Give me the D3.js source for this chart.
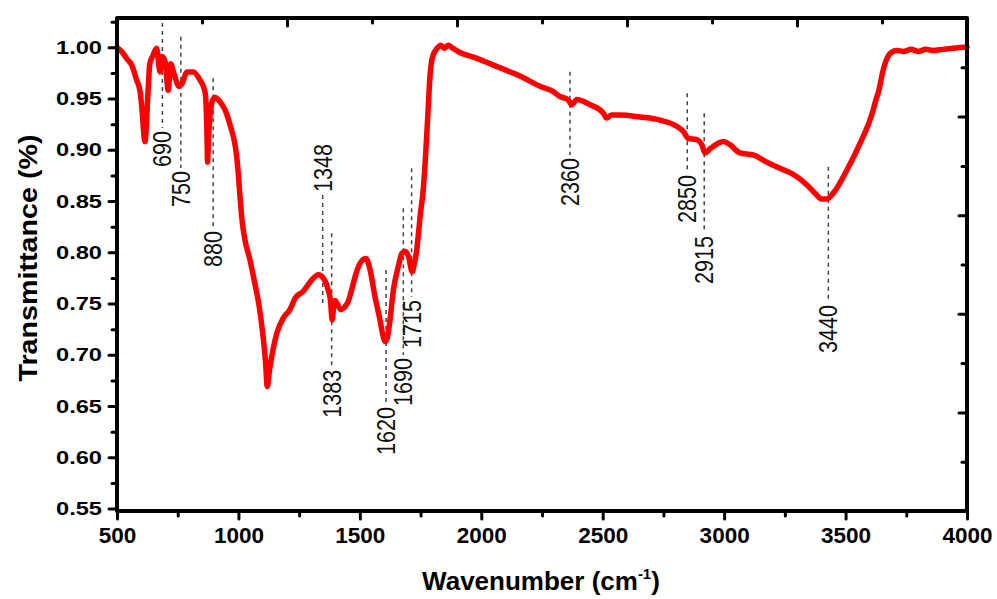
<!DOCTYPE html>
<html>
<head>
<meta charset="utf-8">
<title>FTIR spectrum</title>
<script src="https://cdn.jsdelivr.net/npm/d3@7"></script>
<style>
  body { margin: 0; background: #fff; }
  .tick text { font-family: "Liberation Sans", Arial, sans-serif; font-weight: bold; fill: #000; }
  .tick line { stroke: #000; stroke-width: 3; stroke-linecap: round; }
</style>
</head>
<body>
<script>
// spectrum
var wavenumber = [500, 505, 519, 540, 560, 581, 595, 602, 615, 629, 635, 648, 663, 677, 686, 698, 711, 721, 735, 755, 766, 789, 814, 842, 862,
  866, 870, 873, 877, 884, 893, 904, 924, 945, 972, 982, 992, 1000, 1006, 1015, 1027, 1048, 1068, 1085, 1101, 1111, 1119,
  1128, 1137, 1158, 1185, 1212, 1233, 1267, 1302, 1329, 1349, 1370, 1379, 1386, 1393, 1398, 1407, 1421, 1439, 1452, 1468,
  1480, 1500, 1525, 1542, 1562, 1583, 1595, 1604, 1612, 1624, 1638, 1658, 1673, 1686, 1700, 1716, 1725, 1734, 1742, 1748,
  1761, 1772, 1781, 1789, 1801, 1818, 1834, 1848, 1863, 1884, 1912, 1974, 2077, 2159, 2242, 2295, 2324, 2357, 2372, 2393,
  2448, 2489, 2505, 2516, 2537, 2571, 2654, 2736, 2805, 2832, 2853, 2887, 2908, 2921, 2942, 2997, 3024, 3065, 3120, 3175,
  3230, 3292, 3340, 3381, 3400, 3422, 3450, 3505, 3559, 3614, 3625, 3635, 3655, 3683, 3710, 3740, 3770, 3800, 3830, 3860, 3900,
  3940, 3985, 4000];
var transmittance = [1.000, 0.999, 0.996, 0.989, 0.983, 0.968, 0.957, 0.942, 0.908, 0.962, 0.984, 0.992, 0.999, 0.976, 0.991, 0.986, 0.958, 0.984, 0.974, 0.962, 0.964, 0.976, 0.976, 0.968, 0.957,
  0.948, 0.920, 0.888, 0.912, 0.935, 0.948, 0.951, 0.947, 0.939, 0.919, 0.910, 0.895, 0.875, 0.856, 0.831, 0.812, 0.792, 0.769, 0.748, 0.719, 0.695, 0.669,
  0.685, 0.698, 0.721, 0.736, 0.744, 0.755, 0.762, 0.773, 0.778, 0.775, 0.763, 0.753, 0.734, 0.749, 0.753, 0.750, 0.744, 0.747, 0.752, 0.765,
  0.776, 0.789, 0.794, 0.783, 0.757, 0.734, 0.719, 0.713, 0.716, 0.734, 0.763, 0.786, 0.799, 0.801, 0.796, 0.781, 0.790, 0.802, 0.820, 0.835,
  0.861, 0.900, 0.939, 0.973, 0.992, 0.999, 1.002, 0.999, 1.002, 0.999, 0.995, 0.990, 0.980, 0.972, 0.962, 0.957, 0.952, 0.949, 0.944, 0.949,
  0.944, 0.939, 0.935, 0.931, 0.934, 0.934, 0.932, 0.929, 0.923, 0.918, 0.911, 0.910, 0.905, 0.897, 0.901, 0.908, 0.905, 0.897, 0.895, 0.888,
  0.882, 0.875, 0.866, 0.856, 0.852, 0.852, 0.858, 0.880, 0.906, 0.939, 0.949, 0.956, 0.978, 0.994, 0.997, 0.996, 0.998, 0.996, 0.998, 0.997, 0.998,
  0.999, 1.000, 1.000];

// peak markers
var peakLabels = ["690", "750", "880", "1348", "1383", "1620", "1690", "1715", "2360", "2850", "2915", "3440"];
var peakPos    = [687, 763, 896, 1347, 1384, 1608, 1679, 1713, 2365, 2848, 2918, 3429];
var peakTop    = [1.0237, 1.0103, 0.9698, 0.8559, 0.8185, 0.7827, 0.8429, 0.8820, 0.9762, 0.9551, 0.9356, 0.8835];
var peakBottom = [0.9213, 0.8822, 0.8237, 0.7502, 0.6884, 0.6520, 0.6998, 0.7564, 0.8949, 0.8783, 0.8188, 0.7515];
var labelAbove = [false, false, false, true, false, false, false, false, false, false, false, false];

var xTicks = [500, 1000, 1500, 2000, 2500, 3000, 3500, 4000];
var xMinor = [750, 1250, 1750, 2250, 2750, 3250, 3750];
var yTicks = [0.55, 0.60, 0.65, 0.70, 0.75, 0.80, 0.85, 0.90, 0.95, 1.00];
var yMinor = [0.575, 0.625, 0.675, 0.725, 0.775, 0.825, 0.875, 0.925, 0.975, 1.025];

var width = 997, height = 599;
var plotL = 117, plotR = 967, plotT = 18, plotB = 511;

var svg = d3.select("body").append("svg")
  .attr("width", width)
  .attr("height", height);

var x = d3.scaleLinear().domain([500, 4000]).range([plotL, plotR]);
var y = d3.scaleLinear().domain([0.5476, 1.0286]).range([plotB, plotT]);

// the top and right axes of the frame carry their own tick spacing
var xTop = d3.scaleLinear().domain([0, 10]).range([plotL, plotR]);
var yRight = d3.scaleLinear().domain([0, 10]).range([plotB, plotT]);

// dashed peak markers
var peaks = peakLabels.map(function(d, i) {
  return {label: d, w: peakPos[i], t0: peakTop[i], t1: peakBottom[i], above: labelAbove[i]};
});

var marks = svg.append("g");
marks.selectAll("line")
  .data(peaks)
  .enter().append("line")
  .attr("x1", function(d) { return x(d.w); })
  .attr("x2", function(d) { return x(d.w); })
  .attr("y1", function(d) { return y(d.t0); })
  .attr("y2", function(d) { return y(d.t1); })
  .attr("stroke", "#444")
  .attr("stroke-width", 1.5)
  .attr("stroke-dasharray", "4,4");

marks.selectAll("text")
  .data(peaks)
  .enter().append("text")
  .attr("transform", function(d) {
    var yy = d.above ? y(d.t0) - 3 : y(d.t1) + 3;
    return "translate(" + x(d.w) + "," + yy + ") rotate(-90)";
  })
  .attr("text-anchor", function(d) { return d.above ? "start" : "end"; })
  .attr("dy", "0.36em")
  .attr("font-family", "Liberation Sans, Arial, sans-serif")
  .attr("font-size", 25)
  .attr("textLength", function(d) { return d.label.length * 12; })
  .attr("lengthAdjust", "spacingAndGlyphs")
  .attr("fill", "#111")
  .text(function(d) { return d.label; });

// spectrum
var line = d3.line()
  .x(function(d) { return x(d[0]); })
  .y(function(d) { return y(d[1]); })
  .curve(d3.curveMonotoneX);

svg.append("path")
  .datum(d3.zip(wavenumber, transmittance))
  .attr("d", line)
  .attr("fill", "none")
  .attr("stroke", "#ff0000")
  .attr("stroke-width", 5.5)
  .attr("stroke-linejoin", "round")
  .attr("stroke-linecap", "round");

// axes
var gx = svg.append("g")
  .attr("transform", "translate(0," + plotB + ")")
  .call(d3.axisBottom(x).tickValues(xTicks).tickSize(8).tickPadding(8).tickFormat(d3.format("d")));
gx.selectAll("text").attr("font-size", 22.5);
svg.append("g")
  .attr("transform", "translate(0," + plotB + ")")
  .call(d3.axisBottom(x).tickValues(xMinor).tickSize(5).tickFormat(""));

var gy = svg.append("g")
  .attr("transform", "translate(" + plotL + ",0)")
  .call(d3.axisLeft(y).tickValues(yTicks).tickSize(8).tickPadding(7).tickFormat(d3.format(".2f")));
gy.selectAll("text")
  .attr("font-size", 19)
  .attr("textLength", 46)
  .attr("lengthAdjust", "spacingAndGlyphs");
svg.append("g")
  .attr("transform", "translate(" + plotL + ",0)")
  .call(d3.axisLeft(y).tickValues(yMinor).tickSize(5).tickFormat(""));

svg.append("g")
  .attr("transform", "translate(0," + plotT + ")")
  .call(d3.axisBottom(xTop).tickValues([2, 4, 6, 8]).tickSize(8).tickFormat(""));
svg.append("g")
  .attr("transform", "translate(0," + plotT + ")")
  .call(d3.axisBottom(xTop).tickValues([1, 3, 5, 7, 9]).tickSize(5).tickFormat(""));
svg.append("g")
  .attr("transform", "translate(" + plotR + ",0)")
  .call(d3.axisLeft(yRight).tickValues([2, 4, 6, 8]).tickSize(8).tickFormat(""));
svg.append("g")
  .attr("transform", "translate(" + plotR + ",0)")
  .call(d3.axisLeft(yRight).tickValues([1, 3, 5, 7, 9]).tickSize(5).tickFormat(""));

svg.selectAll(".domain").remove();

// frame
svg.append("rect")
  .attr("x", plotL)
  .attr("y", plotT)
  .attr("width", plotR - plotL)
  .attr("height", plotB - plotT)
  .attr("fill", "none")
  .attr("stroke", "#000")
  .attr("stroke-width", 4)
  .attr("stroke-linejoin", "round");

// titles
svg.append("text")
  .attr("transform", "translate(28,258) rotate(-90)")
  .attr("text-anchor", "middle")
  .attr("dy", "0.36em")
  .attr("font-family", "Liberation Sans, Arial, sans-serif")
  .attr("font-weight", "bold")
  .attr("font-size", 26)
  .attr("textLength", 247)
  .attr("lengthAdjust", "spacingAndGlyphs")
  .text("Transmittance (%)");

var xt = svg.append("text")
  .attr("x", 541)
  .attr("y", 590)
  .attr("text-anchor", "middle")
  .attr("font-family", "Liberation Sans, Arial, sans-serif")
  .attr("font-weight", "bold")
  .attr("font-size", 26);
xt.append("tspan").text("Wavenumber (cm");
xt.append("tspan").attr("font-size", 15).attr("dy", -11).text("-1");
xt.append("tspan").attr("dy", 11).text(")");
</script>
</body>
</html>
